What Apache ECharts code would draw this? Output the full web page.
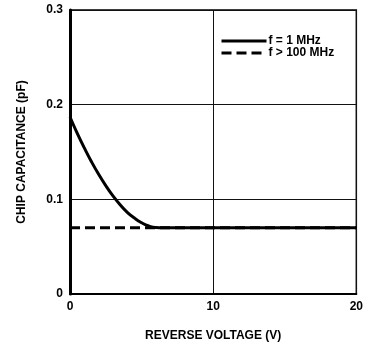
<!DOCTYPE html>
<html>
<head>
<meta charset="utf-8">
<script src="https://cdn.jsdelivr.net/npm/echarts@6/dist/echarts.min.js"></script>
<style>
  html, body { margin: 0; padding: 0; background: #fff; }
  #chart { width: 366px; height: 347px; }
</style>
</head>
<body>
<div id="chart"></div>
<script>
// reverse voltage (V) and chip capacitance (pF)
var voltage1MHz = [0, 0.5, 1, 1.5, 2, 2.5, 3, 3.5, 4, 4.5, 5, 5.5, 6, 6.5, 20]
var cap1MHz = [0.187, 0.170, 0.1543, 0.1397, 0.1264, 0.1144, 0.1036, 0.0942, 0.0862, 0.0802, 0.0753, 0.0718, 0.0702, 0.070, 0.070]
var voltage100MHz = [0, 20]
var cap100MHz = [0.070, 0.070]
var xTicks = [0, 10, 20]
var yTicks = [0, 0.1, 0.2, 0.3]

var seriesNames = ['f = 1 MHz', 'f > 100 MHz']

function pairs(xs, ys) {
  return xs.map(function (x, i) { return [x, ys[i]] })
}

var chart = echarts.init(document.getElementById('chart'))
var font = 'Liberation Sans, Arial, Helvetica, sans-serif'

var option = {
  animation: false,
  grid: {
    left: 70,
    right: 7,
    top: 10,
    bottom: 48,
    show: true,
    borderColor: '#000',
    borderWidth: 1.5
  },
  legend: {
    orient: 'vertical',
    left: 220,
    top: 35,
    padding: 0,
    itemWidth: 45,
    itemHeight: 12,
    itemGap: 0,
    data: seriesNames,
    itemStyle: { opacity: 0 },
    lineStyle: { width: 3 },
    textStyle: { color: '#000', fontFamily: font, fontWeight: 'bold', fontSize: 12, lineHeight: 12, padding: [0, 0, 0, -3] }
  },
  xAxis: {
    type: 'value',
    min: xTicks[0],
    max: xTicks[xTicks.length - 1],
    interval: 10,
    name: 'REVERSE VOLTAGE (V)',
    nameLocation: 'middle',
    nameGap: 36,
    nameTextStyle: { color: '#000', fontFamily: font, fontWeight: 'bold', fontSize: 12 },
    axisLine: { lineStyle: { color: '#000', width: 2 } },
    axisTick: { show: false },
    axisLabel: { color: '#000', fontFamily: font, fontWeight: 'bold', fontSize: 12, margin: 7 },
    splitLine: { show: true, lineStyle: { color: '#111', width: 1 } }
  },
  yAxis: {
    type: 'value',
    min: yTicks[0],
    max: yTicks[yTicks.length - 1],
    interval: 0.1,
    name: 'CHIP CAPACITANCE (pF)',
    nameLocation: 'middle',
    nameGap: 42,
    nameTextStyle: { color: '#000', fontFamily: font, fontWeight: 'bold', fontSize: 12 },
    axisLine: { show: true, lineStyle: { color: '#000', width: 3 } },
    axisTick: { show: false },
    axisLabel: { color: '#000', fontFamily: font, fontWeight: 'bold', fontSize: 12, margin: 7 },
    splitLine: { show: true, lineStyle: { color: '#111', width: 1 } }
  },
  series: [
    {
      name: seriesNames[1],
      type: 'line',
      symbol: 'none',
      z: 3,
      itemStyle: { color: '#000' },
      lineStyle: { color: '#000', width: 3, type: [10, 5] },
      data: pairs(voltage100MHz, cap100MHz)
    },
    {
      name: seriesNames[0],
      type: 'line',
      symbol: 'none',
      smooth: 0.5,
      z: 4,
      itemStyle: { color: '#000' },
      lineStyle: { color: '#000', width: 3 },
      data: pairs(voltage1MHz, cap1MHz)
    }
  ]
}
chart.setOption(option)
</script>
</body>
</html>
